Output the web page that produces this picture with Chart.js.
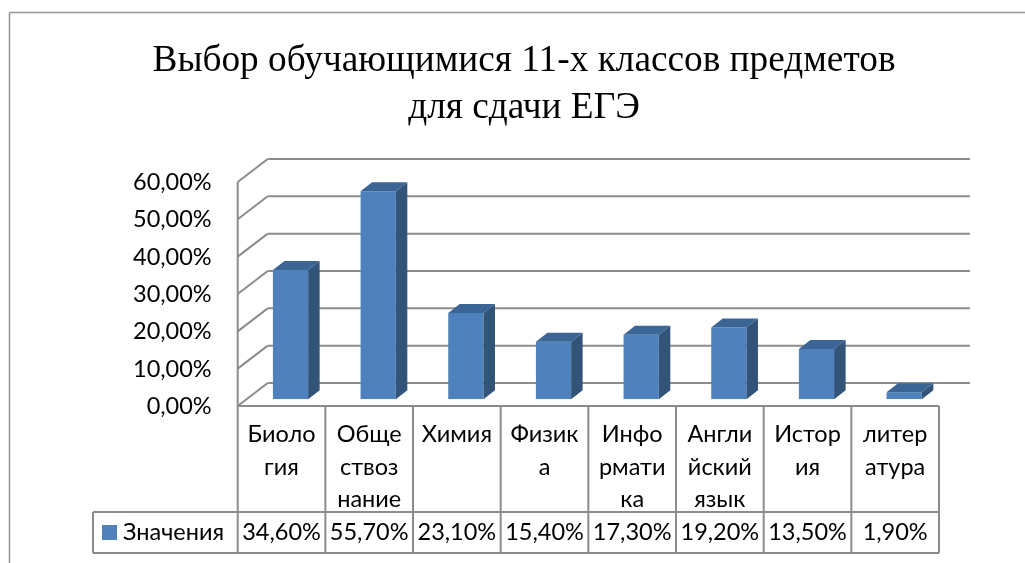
<!DOCTYPE html>
<html>
<head>
<meta charset="utf-8">
<style>
    html, body { margin: 0; padding: 0; background: #fff; overflow: hidden; }
    canvas { display: block; }
</style>
<script src="https://cdn.jsdelivr.net/npm/chart.js@4"></script>
</head>
<body>
<canvas id="barChart" width="1025" height="563"></canvas>
<script>
var titleLines = ['Выбор обучающимися 11-х классов предметов', 'для сдачи ЕГЭ'];
var categories = [
    ['Биоло', 'гия'],
    ['Обще', 'ствоз', 'нание'],
    ['Химия'],
    ['Физик', 'а'],
    ['Инфо', 'рмати', 'ка'],
    ['Англи', 'йский', 'язык'],
    ['Истор', 'ия'],
    ['литер', 'атура']
];
var seriesName = 'Значения';
var seriesValues = [34.6, 55.7, 23.1, 15.4, 17.3, 19.2, 13.5, 1.9];

var labelFont = 'Lato';
var labelSize = 23.5;
var gridColor = '#8c8c8c';

function percentText(v) {
    return v.toFixed(2).replace('.', ',') + '%';
}

function line(ctx, x1, y1, x2, y2) {
    ctx.beginPath();
    ctx.moveTo(x1, y1);
    ctx.lineTo(x2, y2);
    ctx.stroke();
}

// walls and gridlines behind the bars, front plane is shifted from the bar plane
var wallsPlugin = {
    id: 'walls',
    beforeDatasetsDraw: function (chart) {
        var ctx = chart.ctx, yScale = chart.scales.y, area = chart.chartArea;
        ctx.save();
        ctx.strokeStyle = '#969696';
        ctx.lineWidth = 1.6;
        line(ctx, 9.5, 563, 9.5, 12.5);
        line(ctx, 9.5, 12.5, 1025, 12.5);
        ctx.strokeStyle = gridColor;
        ctx.lineWidth = 2;
        var frontLeft = area.left - 9, backRight = area.right + 22;
        yScale.ticks.forEach(function (tick) {
            var y = yScale.getPixelForValue(tick.value);
            line(ctx, frontLeft, y + 6.7, frontLeft + 30, y - 16.3);
            line(ctx, frontLeft + 30, y - 16.3, backRight, y - 16.3);
        });
        line(ctx, frontLeft, yScale.getPixelForValue(60) + 6.7, frontLeft, yScale.getPixelForValue(0) + 6.7);
        ctx.restore();
    }
};

// depth faces of the bars
var depthPlugin = {
    id: 'depth',
    afterDatasetsDraw: function (chart) {
        var ctx = chart.ctx, dx = 11.5, dy = 9;
        chart.getDatasetMeta(0).data.forEach(function (bar) {
            var left = bar.x - bar.width / 2, right = bar.x + bar.width / 2;
            ctx.fillStyle = '#3a6595';
            ctx.beginPath();
            ctx.moveTo(left, bar.y);
            ctx.lineTo(left + dx, bar.y - dy);
            ctx.lineTo(right + dx, bar.y - dy);
            ctx.lineTo(right, bar.y);
            ctx.closePath();
            ctx.fill();
            ctx.fillStyle = '#325478';
            ctx.beginPath();
            ctx.moveTo(right, bar.y);
            ctx.lineTo(right + dx, bar.y - dy);
            ctx.lineTo(right + dx, bar.base - dy);
            ctx.lineTo(right, bar.base);
            ctx.closePath();
            ctx.fill();
        });
    }
};

// data table under the plot
var tablePlugin = {
    id: 'dataTable',
    afterDraw: function (chart) {
        var ctx = chart.ctx, area = chart.chartArea, yScale = chart.scales.y, xScale = chart.scales.x;
        var tableTop = yScale.getPixelForValue(0) + 6.7, rowTop = 512, tableBottom = 553;
        var keyLeft = 93, step = (area.right - area.left) / categories.length, first = area.left - 9;
        var last = first + step * categories.length;
        ctx.save();
        ctx.strokeStyle = gridColor;
        ctx.lineWidth = 2;
        line(ctx, first, tableTop, last, tableTop);
        line(ctx, keyLeft, rowTop, last, rowTop);
        line(ctx, keyLeft, tableBottom, last, tableBottom);
        line(ctx, keyLeft, rowTop, keyLeft, tableBottom);
        for (var i = 0; i <= categories.length; i++) {
            line(ctx, first + step * i, tableTop, first + step * i, tableBottom);
        }
        ctx.font = labelSize + 'px ' + labelFont;
        ctx.fillStyle = '#000';
        ctx.textBaseline = 'middle';
        ctx.textAlign = 'center';
        seriesValues.forEach(function (v, i) {
            ctx.fillText(percentText(v), xScale.getPixelForTick(i) - 9, 532);
        });
        ctx.textAlign = 'left';
        ctx.fillText(seriesName, 123, 532);
        ctx.fillStyle = '#4f81bd';
        ctx.fillRect(102, 525, 15, 15);
        ctx.restore();
    }
};

new Chart(document.getElementById('barChart').getContext('2d'), {
    type: 'bar',
    data: {
        labels: categories,
        datasets: [{
            label: seriesName,
            data: seriesValues,
            backgroundColor: '#4f81bd',
            borderWidth: 0,
            barPercentage: 0.402,
            categoryPercentage: 1
        }]
    },
    options: {
        responsive: false,
        animation: false,
        layout: { padding: { left: 100, right: 77, top: 0, bottom: 0 } },
        plugins: {
            legend: { display: false },
            tooltip: { enabled: false },
            title: {
                display: true,
                text: titleLines,
                color: '#000',
                font: { family: 'Liberation Serif', size: 37.3, weight: 'normal', lineHeight: 1.26 },
                padding: { top: 37.5, bottom: 43.8 }
            }
        },
        scales: {
            x: {
                grid: { display: false },
                border: { display: false },
                afterFit: function (scale) { scale.height = 163.7; },
                ticks: {
                    color: '#000',
                    font: { family: labelFont, size: labelSize, lineHeight: 1.38 },
                    padding: 11,
                    labelOffset: -9,
                    maxRotation: 0,
                    minRotation: 0,
                    autoSkip: false
                }
            },
            y: {
                min: 0,
                max: 60,
                grid: { display: false },
                border: { display: false },
                afterFit: function (scale) { scale.width = 146.7; },
                ticks: {
                    stepSize: 10,
                    color: '#000',
                    font: { family: labelFont, size: labelSize },
                    padding: 27,
                    labelOffset: 7,
                    callback: function (v) { return percentText(v); }
                }
            }
        }
    },
    plugins: [wallsPlugin, depthPlugin, tablePlugin]
});
</script>
</body>
</html>
